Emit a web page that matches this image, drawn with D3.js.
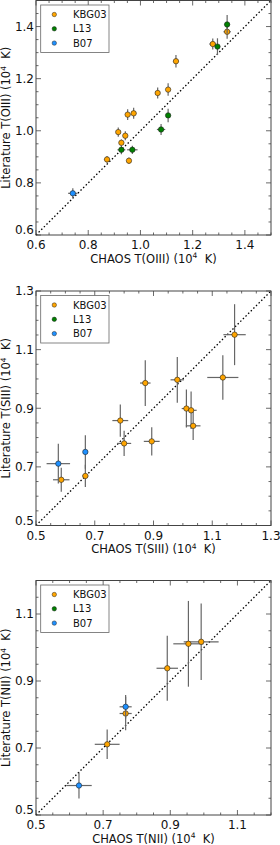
<!DOCTYPE html>
<html lang="en">
<head>
<meta charset="UTF-8">
<title>CHAOS vs literature temperatures</title>
<script src="https://d3js.org/d3.v7.min.js"></script>
<style>
    body { margin: 0; padding: 0; background: #fff; }
    svg { display: block; font-family: "DejaVu Sans", sans-serif; }
</style>
</head>
<body>
<div id="chart"></div>
<script>
// T(OIII) panel
const o3KbgX  = [1.332, 1.277, 1.136, 1.066, 1.106, 0.951, 0.974, 0.915, 0.942, 0.927, 0.872, 0.956];
const o3KbgY  = [1.380, 1.333, 1.267, 1.145, 1.158, 1.062, 1.067, 0.995, 0.981, 0.954, 0.890, 0.885];
const o3KbgEx = [0.014, 0.013, 0.010, 0.008, 0.008, 0.010, 0.010, 0.008, 0.009, 0.006, 0.011, 0.008];
const o3KbgEy = [0.027, 0.021, 0.024, 0.021, 0.024, 0.021, 0.021, 0.018, 0.017, 0.013, 0.013, 0.012];
const o3L13X  = [1.332, 1.295, 1.106, 1.079, 0.927, 0.969];
const o3L13Y  = [1.408, 1.323, 1.059, 1.005, 0.927, 0.927];
const o3L13Ex = [0.010, 0.010, 0.008, 0.016, 0.015, 0.020];
const o3L13Ey = [0.036, 0.032, 0.026, 0.021, 0.017, 0.016];
const o3B07X  = [0.741];
const o3B07Y  = [0.760];
const o3B07Ex = [0.018];
const o3B07Ey = [0.019];

// T(SIII) panel
const s3KbgX  = [0.872, 0.981, 1.136, 1.012, 1.028, 1.035, 0.787, 0.800, 0.894, 0.586, 0.668, 1.176];
const s3KbgY  = [0.986, 0.997, 1.005, 0.899, 0.893, 0.840, 0.858, 0.780, 0.787, 0.656, 0.669, 1.151];
const s3KbgEx = [0.018, 0.023, 0.053, 0.016, 0.019, 0.025, 0.027, 0.024, 0.027, 0.028, 0.010, 0.038];
const s3KbgEy = [0.078, 0.078, 0.076, 0.065, 0.064, 0.048, 0.055, 0.043, 0.048, 0.041, 0.038, 0.104];
const s3B07X  = [0.576, 0.668];
const s3B07Y  = [0.711, 0.751];
const s3B07Ex = [0.040, 0.008];
const s3B07Ey = [0.068, 0.057];

// T(NII) panel
const n2KbgX  = [0.712, 0.767, 0.891, 0.954, 0.992];
const n2KbgY  = [0.711, 0.803, 0.938, 1.011, 1.017];
const n2KbgEx = [0.037, 0.018, 0.032, 0.045, 0.052];
const n2KbgEy = [0.044, 0.050, 0.097, 0.128, 0.114];
const n2B07X  = [0.628, 0.767];
const n2B07Y  = [0.588, 0.823];
const n2B07Ex = [0.038, 0.018];
const n2B07Ey = [0.039, 0.035];

const o3Ticks = [0.6, 0.8, 1.0, 1.2, 1.4];
const s3Ticks = [0.5, 0.7, 0.9, 1.1, 1.3];
const n2Ticks = [0.5, 0.7, 0.9, 1.1];

const legendNames = ["KBG03", "L13", "B07"];
const colors = {KBG03: "#ffa500", L13: "#008000", B07: "#1e90ff"};

const zip = (xs, ys, exs, eys) => xs.map((x, i) => ({x: x, y: ys[i], ex: exs[i], ey: eys[i]}));

const panels = [
    {ion: "OIII", domain: [0.6, 1.5], ticks: o3Ticks, top: 0.5,
     series: [
        {name: "KBG03", pts: zip(o3KbgX, o3KbgY, o3KbgEx, o3KbgEy)},
        {name: "L13", pts: zip(o3L13X, o3L13Y, o3L13Ex, o3L13Ey)},
        {name: "B07", pts: zip(o3B07X, o3B07Y, o3B07Ex, o3B07Ey)}
     ]},
    {ion: "SIII", domain: [0.5, 1.3], ticks: s3Ticks, top: 291,
     series: [
        {name: "KBG03", pts: zip(s3KbgX, s3KbgY, s3KbgEx, s3KbgEy)},
        {name: "B07", pts: zip(s3B07X, s3B07Y, s3B07Ex, s3B07Ey)}
     ]},
    {ion: "NII", domain: [0.5, 1.2], ticks: n2Ticks, top: 580.5,
     series: [
        {name: "KBG03", pts: zip(n2KbgX, n2KbgY, n2KbgEx, n2KbgEy)},
        {name: "B07", pts: zip(n2B07X, n2B07Y, n2B07Ex, n2B07Ey)}
     ]}
];

const left = 36, right = 271, size = 234.5;
const frameColor = "#444";

const svg = d3.select("#chart").append("svg")
    .attr("width", 280)
    .attr("height", 845);

panels.forEach(p => {
    const bottom = p.top + size;
    const x = d3.scaleLinear().domain(p.domain).range([left, right]);
    const y = d3.scaleLinear().domain(p.domain).range([bottom, p.top]);
    const g = svg.append("g");

    // minor ticks every 0.05, major on labelled values
    const minor = d3.range(Math.round(p.domain[0] * 20), Math.round(p.domain[1] * 20) + 1).map(v => v / 20);
    const isMajor = v => p.ticks.some(t => Math.abs(t - v) < 1e-6);
    const tk = g.append("g").attr("stroke", frameColor).attr("stroke-width", 0.8);
    minor.forEach(v => {
        const len = isMajor(v) ? 5 : 2.5;
        tk.append("line").attr("x1", x(v)).attr("x2", x(v)).attr("y1", bottom).attr("y2", bottom - len);
        tk.append("line").attr("x1", x(v)).attr("x2", x(v)).attr("y1", p.top).attr("y2", p.top + len);
        tk.append("line").attr("y1", y(v)).attr("y2", y(v)).attr("x1", left).attr("x2", left + len);
        tk.append("line").attr("y1", y(v)).attr("y2", y(v)).attr("x1", right).attr("x2", right - len);
    });

    // tick labels (lowest y label nudged up so it clears the x labels)
    g.selectAll(".xt").data(p.ticks).enter().append("text")
        .attr("x", d => x(d)).attr("y", bottom + 14)
        .attr("text-anchor", "middle").attr("font-size", 12).attr("fill", "#111")
        .text(d => d.toFixed(1));
    g.selectAll(".yt").data(p.ticks).enter().append("text")
        .attr("x", left - 2).attr("y", (d, i) => i === 0 ? bottom - 1 : y(d)).attr("dy", (d, i) => i === 0 ? 0 : "0.36em")
        .attr("text-anchor", "end").attr("font-size", 12).attr("fill", "#111")
        .text(d => d.toFixed(1));

    // one-to-one line
    g.append("line")
        .attr("x1", x(p.domain[0])).attr("y1", y(p.domain[0]))
        .attr("x2", x(p.domain[1])).attr("y2", y(p.domain[1]))
        .attr("stroke", "#000").attr("stroke-width", 1.3)
        .attr("stroke-dasharray", "1.5,2.2");

    // error bars + points
    p.series.forEach(s => {
        const eb = g.append("g").attr("stroke", "#666").attr("stroke-width", 1.2);
        s.pts.forEach(d => {
            eb.append("line").attr("x1", x(d.x - d.ex)).attr("x2", x(d.x + d.ex)).attr("y1", y(d.y)).attr("y2", y(d.y));
            eb.append("line").attr("x1", x(d.x)).attr("x2", x(d.x)).attr("y1", y(d.y - d.ey)).attr("y2", y(d.y + d.ey));
        });
        g.append("g").selectAll("circle").data(s.pts).enter().append("circle")
            .attr("cx", d => x(d.x)).attr("cy", d => y(d.y)).attr("r", 2.7)
            .attr("fill", colors[s.name]).attr("stroke", "#222").attr("stroke-width", 0.6);
    });

    // frame
    g.append("rect").attr("x", left).attr("y", p.top).attr("width", right - left).attr("height", size)
        .attr("fill", "none").attr("stroke", frameColor).attr("stroke-width", 1);

    // legend
    const lg = g.append("g");
    lg.append("rect").attr("x", 40.7).attr("y", p.top + 4.5).attr("width", 68.3).attr("height", 47.5)
        .attr("fill", "#fff").attr("stroke", "#666").attr("stroke-width", 0.8);
    legendNames.forEach((n, i) => {
        const ly = p.top + 14 + i * 14.3;
        lg.append("circle").attr("cx", 54.3).attr("cy", ly).attr("r", 2.2)
            .attr("fill", colors[n]).attr("stroke", "#222").attr("stroke-width", 0.5);
        lg.append("text").attr("x", 73).attr("y", ly).attr("dy", "0.36em")
            .attr("font-size", 10).attr("fill", "#111").text(n);
    });

    // axis labels
    const xl = g.append("text").attr("x", (left + right) / 2).attr("y", bottom + 27.5)
        .attr("text-anchor", "middle").attr("font-size", 11.5).attr("fill", "#111");
    xl.append("tspan").text("CHAOS T(" + p.ion + ") (10");
    xl.append("tspan").attr("dy", -4.5).attr("font-size", 7.5).text("4");
    xl.append("tspan").attr("dy", 4.5).text("\u00a0 K)");

    const yl = g.append("text")
        .attr("transform", `translate(10,${(p.top + bottom) / 2}) rotate(-90)`)
        .attr("text-anchor", "middle").attr("font-size", 11.5).attr("fill", "#111");
    yl.append("tspan").text("Literature T(" + p.ion + ") (10");
    yl.append("tspan").attr("dy", -4.5).attr("font-size", 7.5).text("4");
    yl.append("tspan").attr("dy", 4.5).text("\u00a0 K)");
});
</script>
</body>
</html>
